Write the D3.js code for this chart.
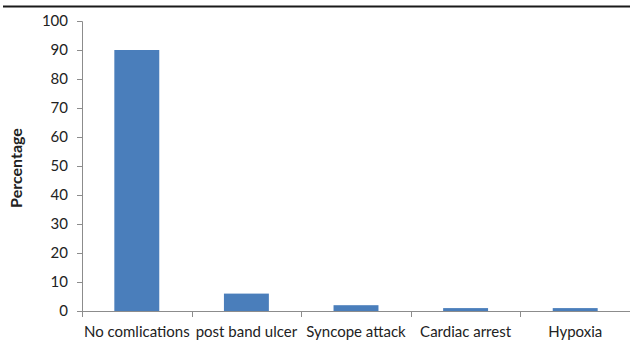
<!DOCTYPE html>
<html>
<head>
<meta charset="utf-8">
<script src="https://cdn.jsdelivr.net/npm/d3@7"></script>
<style>
  html, body { margin: 0; padding: 0; background: #fff; }
  svg { display: block; }
  text { font-family: Lato, "Open Sans", sans-serif; fill: #222; }
</style>
</head>
<body>
<svg id="chart" width="630" height="345"></svg>
<script>
// Complications after banding
const categories = ["No comlications", "post band ulcer", "Syncope attack", "Cardiac arrest", "Hypoxia"];
const percentages = [90, 6, 2, 1, 1];
const yTicks = [0, 10, 20, 30, 40, 50, 60, 70, 80, 90, 100];

const svg = d3.select("#chart");
const plotLeft = 82, plotRight = 630, plotTop = 21, plotBottom = 311;

// header rule
svg.append("line")
  .attr("x1", 3).attr("x2", 630).attr("y1", 6.5).attr("y2", 6.5)
  .attr("stroke", "#1a1a1a").attr("stroke-width", 2);

const x = d3.scaleBand().domain(categories).range([plotLeft, plotRight]).paddingInner(0.59).paddingOuter(0.295);
const y = d3.scaleLinear().domain([0, 100]).range([plotBottom, plotTop]);

// bars
svg.append("g").selectAll("rect").data(categories).join("rect")
  .attr("x", d => x(d))
  .attr("width", x.bandwidth())
  .attr("y", (d, i) => y(percentages[i]))
  .attr("height", (d, i) => y(0) - y(percentages[i]))
  .attr("fill", "#4a7ebb");

// y axis
const yAxis = svg.append("g").attr("transform", `translate(${plotLeft},0)`)
  .call(d3.axisLeft(y).tickValues(yTicks).tickSize(5).tickPadding(9));
yAxis.select(".domain").attr("stroke", "#8c8c8c");
yAxis.selectAll(".tick line").attr("stroke", "#8c8c8c");
yAxis.selectAll(".tick text").attr("font-size", 15).attr("fill", "#222");

// x axis with boundary ticks between categories
const bounds = d3.range(categories.length).map(i => plotLeft + i * (plotRight - plotLeft) / categories.length);
const xg = svg.append("g");
xg.append("line").attr("x1", plotLeft).attr("x2", plotRight).attr("y1", plotBottom + 0.5).attr("y2", plotBottom + 0.5)
  .attr("stroke", "#8c8c8c");
xg.selectAll("line.tk").data(bounds).join("line").attr("class", "tk")
  .attr("x1", d => Math.round(d) + 0.5).attr("x2", d => Math.round(d) + 0.5)
  .attr("y1", plotBottom).attr("y2", plotBottom + 6).attr("stroke", "#8c8c8c");
xg.selectAll("text").data(categories).join("text")
  .attr("x", d => x(d) + x.bandwidth() / 2)
  .attr("y", 337)
  .attr("text-anchor", "middle")
  .attr("font-size", 15)
  .text(d => d);

// y axis title
svg.append("text")
  .attr("transform", "translate(22,168) rotate(-90)")
  .attr("text-anchor", "middle")
  .attr("font-size", 16)
  .attr("font-weight", "bold")
  .text("Percentage");
</script>
</body>
</html>
